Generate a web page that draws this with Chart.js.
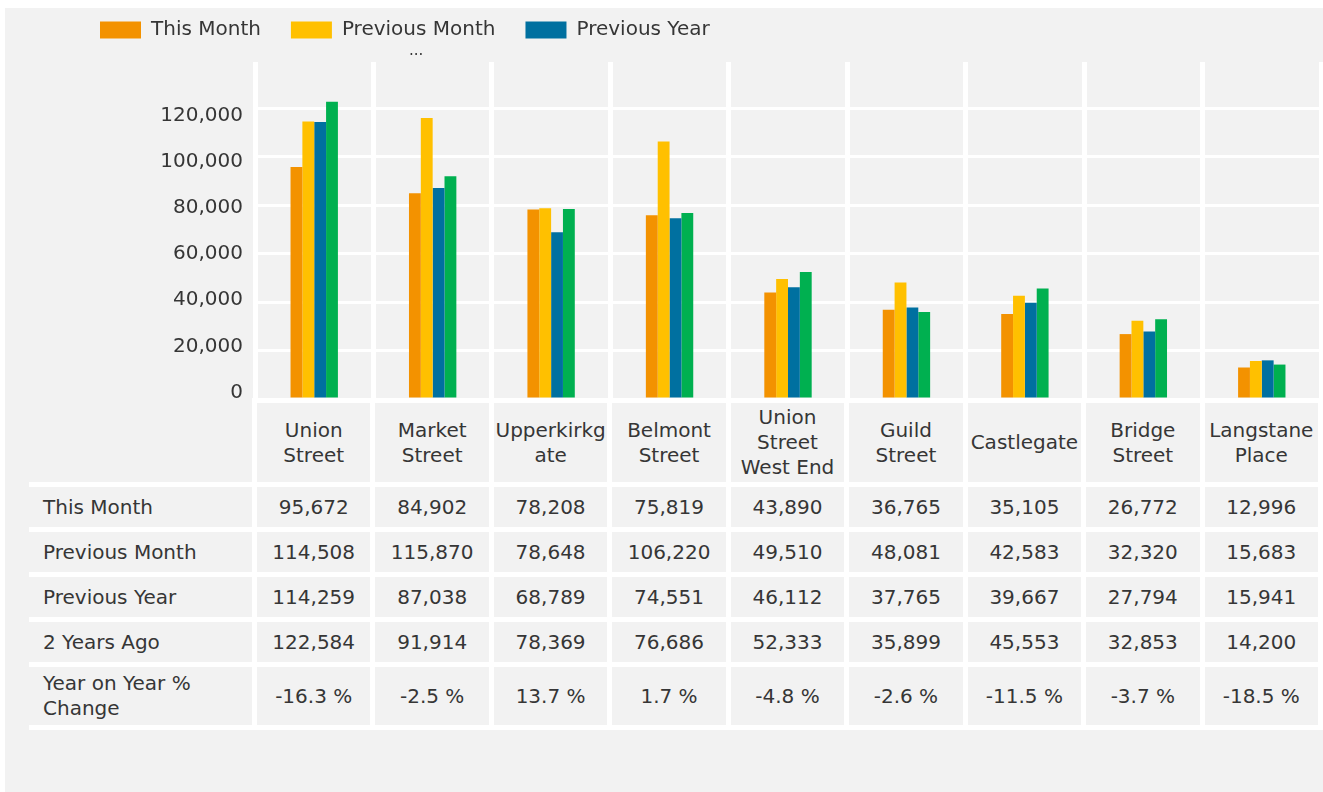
<!DOCTYPE html>
<html>
<head>
<meta charset="utf-8">
<title>Footfall by street</title>
<script src="https://cdn.jsdelivr.net/npm/chart.js@4.4.1/dist/chart.umd.min.js"></script>
<style>
    html, body {
        margin: 0;
        padding: 0;
        background: #ffffff;
        width: 1323px;
        height: 792px;
        overflow: hidden;
        font-family: "DejaVu Sans", sans-serif;
        color: #363636;
    }

    .panel {
        position: absolute;
        left: 5px;
        top: 8px;
        right: 0;
        bottom: 0;
        background: #f2f2f2;
    }

    #chart {
        position: absolute;
        left: 0;
        top: -10px;
    }

    .legend-more {
        position: absolute;
        left: 409px;
        top: 41px;
        font-size: 15px;
        color: #363636;
    }

    .matrix {
        position: absolute;
        left: 29px;
        top: 398px;
        width: 1294px;
        box-sizing: border-box;
        padding: 5px 5px 5px 0;
        background: #ffffff;
        display: grid;
        grid-template-columns: 223px repeat(9, 1fr);
        grid-template-rows: 79px 40px 40px 40px 40px 58px;
        gap: 5px;
    }

    .matrix div {
        background: #f2f2f2;
        display: flex;
        align-items: center;
        justify-content: center;
        text-align: center;
        font-size: 20px;
        line-height: 25px;
        overflow-wrap: anywhere;
    }

    .matrix .corner {
        margin-top: -5px;
    }

    .matrix .row-label {
        justify-content: flex-start;
        text-align: left;
        padding-left: 14px;
    }
</style>
</head>
<body>
<div class="panel"></div>
<canvas id="chart" width="1323" height="409"></canvas>
<div class="legend-more">...</div>
<div class="matrix" id="matrix"></div>

<script>
// Values
const categories = ['Union Street', 'Market Street', 'Upperkirkgate', 'Belmont Street',
    'Union Street West End', 'Guild Street', 'Castlegate', 'Bridge Street', 'Langstane Place'];

const thisMonth = [95672, 84902, 78208, 75819, 43890, 36765, 35105, 26772, 12996];
const previousMonth = [114508, 115870, 78648, 106220, 49510, 48081, 42583, 32320, 15683];
const previousYear = [114259, 87038, 68789, 74551, 46112, 37765, 39667, 27794, 15941];
const twoYearsAgo = [122584, 91914, 78369, 76686, 52333, 35899, 45553, 32853, 14200];
const yoyChange = [-16.3, -2.5, 13.7, 1.7, -4.8, -2.6, -11.5, -3.7, -18.5];

const yTicks = [0, 20000, 40000, 60000, 80000, 100000, 120000];

const seriesNames = ['This Month', 'Previous Month', 'Previous Year', '2 Years Ago'];
const seriesColors = ['#f39200', '#ffc000', '#0070a0', '#00b050'];
const seriesValues = [thisMonth, previousMonth, previousYear, twoYearsAgo];

const textColor = '#363636';
const fontFamily = '"DejaVu Sans", sans-serif';

const formatNumber = (v) => v.toLocaleString('en-US');

// give the legend a bit more room below it
const legendSpacer = {
    id: 'legendSpacer',
    beforeInit(chart) {
        const fit = chart.legend.fit;
        chart.legend.fit = function () {
            fit.bind(chart.legend)();
            this.height += 12;
        };
    }
};

const useTicks = (scale) => {
    scale.ticks = yTicks.map(v => ({ value: v }));
};

new Chart(document.getElementById('chart'), {
    type: 'bar',
    data: {
        labels: categories,
        datasets: seriesNames.map((name, i) => ({
            label: name,
            data: seriesValues[i],
            backgroundColor: seriesColors[i],
            borderWidth: 0,
            yAxisID: 'y'
        }))
    },
    options: {
        responsive: false,
        animation: false,
        layout: {
            padding: { left: 70, right: 2, top: 0, bottom: 0 }
        },
        datasets: {
            bar: {
                categoryPercentage: 0.4,
                barPercentage: 1.0
            }
        },
        plugins: {
            tooltip: { enabled: false },
            legend: {
                position: 'top',
                align: 'start',
                labels: {
                    boxWidth: 41,
                    boxHeight: 17,
                    padding: 30,
                    color: textColor,
                    font: { family: fontFamily, size: 20 },
                    filter: (item) => item.datasetIndex < 3
                }
            }
        },
        scales: {
            x: {
                type: 'category',
                offset: true,
                border: { display: false },
                grid: {
                    offset: true,
                    color: '#ffffff',
                    lineWidth: 5,
                    drawTicks: false
                },
                ticks: { display: false }
            },
            y: {
                position: 'left',
                min: 0,
                max: 139000,
                border: { display: false },
                grid: {
                    color: '#ffffff',
                    lineWidth: 3,
                    drawTicks: false
                },
                ticks: { display: false },
                afterBuildTicks: useTicks
            },
            yl: {
                position: 'left',
                min: -2800,
                max: 143200,
                border: { display: false },
                grid: { display: false, drawTicks: false },
                ticks: {
                    padding: 12,
                    color: textColor,
                    font: { family: fontFamily, size: 20 },
                    callback: (v) => formatNumber(v)
                },
                afterBuildTicks: useTicks,
                afterFit: (scale) => {
                    scale.width = 185;
                    scale.paddingTop = 0;
                    scale.paddingBottom = 0;
                }
            }
        }
    },
    plugins: [legendSpacer]
});

// Table under the chart
const rows = [
    { label: 'This Month', values: thisMonth.map(formatNumber) },
    { label: 'Previous Month', values: previousMonth.map(formatNumber) },
    { label: 'Previous Year', values: previousYear.map(formatNumber) },
    { label: '2 Years Ago', values: twoYearsAgo.map(formatNumber) },
    { label: 'Year on Year % Change', values: yoyChange.map(v => v.toFixed(1) + ' %') }
];

const matrix = document.getElementById('matrix');

const addCell = (text, className) => {
    const cell = document.createElement('div');
    if (className) cell.className = className;
    cell.textContent = text;
    matrix.appendChild(cell);
};

addCell('', 'corner');
categories.forEach(name => addCell(name));

rows.forEach(row => {
    addCell(row.label, 'row-label');
    row.values.forEach(v => addCell(v));
});
</script>
</body>
</html>
